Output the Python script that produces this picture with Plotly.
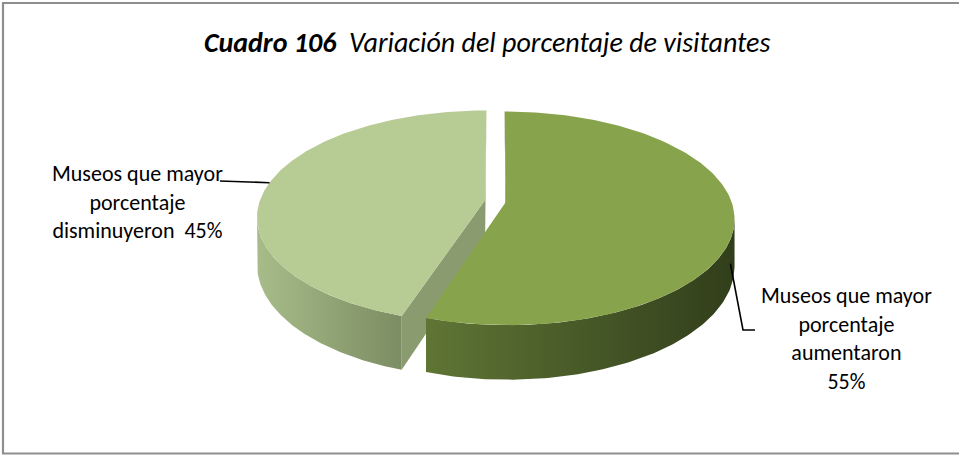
import numpy as np
import plotly.graph_objects as go

# --- data -------------------------------------------------------------
categories = [
    "Museos que mayor<br>porcentaje<br>aumentaron",
    "Museos que mayor<br>porcentaje<br>disminuyeron",
]
values = [55, 45]
value_separators = ["<br>", "\u00a0\u00a0"]

# --- styles -----------------------------------------------------------
top_colors = ["#87A34B", "#B7CB94"]
wall_colors = [("#5F7535", "#313E1B"), ("#A8BC8A", "#7B8D62")]
cut_colors = ["#3F4F22", "#8B9B70"]

W, H = 959, 455

# 3D pie geometry (screen pixels), simple perspective on a tilted disc
CX, CY = 495.5, 201.0
RX, RY = 225.3, 104.0
K = 0.155          # perspective strength
DEPTH = 46.0       # thickness of the pie
EXPLODE = 0.047    # slice separation, in disc radii


def project(u, v, h=0.0):
    u = np.asarray(u, dtype=float)
    v = np.asarray(v, dtype=float)
    den = 1.0 + K * v
    x = CX + RX * u / den
    y = CY + (-RY * v + h * DEPTH) / den
    return x, y


total = float(sum(values))
bounds = np.concatenate([[0.0], np.cumsum(values) / total * 360.0])
silh_lo = np.degrees(np.arccos(-K))
silh_hi = 360.0 - silh_lo

slices = []
for i, val in enumerate(values):
    a0, a1 = bounds[i], bounds[i + 1]
    mid = np.radians((a0 + a1) / 2)
    su, sv = EXPLODE * np.sin(mid), EXPLODE * np.cos(mid)
    slices.append(dict(i=i, a0=a0, a1=a1, su=su, sv=sv))

# paint back slices first
slices.sort(key=lambda s: -s["sv"])

fig = go.Figure()


def add_poly(xs, ys, color=None, gradient=None):
    kw = dict(x=list(xs) + [xs[0]], y=list(ys) + [ys[0]], mode="lines",
              fill="toself", line=dict(width=0), hoverinfo="skip",
              showlegend=False)
    if gradient is not None:
        kw["fillgradient"] = dict(type="horizontal",
                                  colorscale=[[0, gradient[0]], [1, gradient[1]]])
    else:
        kw["fillcolor"] = color
    fig.add_trace(go.Scatter(**kw))


for s in slices:
    i, a0, a1, su, sv = s["i"], s["a0"], s["a1"], s["su"], s["sv"]

    # outer wall (front-facing part only)
    w0, w1 = max(a0, silh_lo), min(a1, silh_hi)
    if w1 > w0:
        th = np.radians(np.linspace(w0, w1, 120))
        u, v = su + np.sin(th), sv + np.cos(th)
        xt, yt = project(u, v, 0)
        xb, yb = project(u, v, 1)
        add_poly(np.concatenate([xt, xb[::-1]]), np.concatenate([yt, yb[::-1]]),
                 gradient=wall_colors[i])

    # radial cut faces
    px, py = project(su, sv, 0)
    pbx, pby = project(su, sv, 1)
    for a, side in ((a0, 1), (a1, -1)):
        t = np.radians(a)
        rx_, ry_ = project(su + np.sin(t), sv + np.cos(t), 0)
        rbx, rby = project(su + np.sin(t), sv + np.cos(t), 1)
        q = np.radians(a + side * 5)
        qx, qy = project(su + 0.5 * np.sin(q), sv + 0.5 * np.cos(q), 0)
        ex, ey = rx_ - px, ry_ - py
        c_down = ex * 1.0
        c_in = ex * (qy - py) - ey * (qx - px)
        if c_down * c_in < 0:
            add_poly([px, rx_, rbx, pbx], [py, ry_, rby, pby], color=cut_colors[i])

    # top face
    th = np.radians(np.linspace(a0, a1, 200))
    xt, yt = project(su + np.sin(th), sv + np.cos(th), 0)
    add_poly(np.concatenate([[px], xt]), np.concatenate([[py], yt]),
             color=top_colors[i])

# --- data labels with leader lines ------------------------------------
label_font = dict(family="Carlito, Calibri, Lato, sans-serif", size=22, color="#000000")
label_pos = {0: (846, 338), 1: (137.5, 202)}
leader_angle = {0: 110, 1: 280}
leader_depth = {0: 0.5, 1: 0.0}
leader_tail = {0: [(743, 330), (755, 330)], 1: [(220, 181)]}

for s in slices:
    i, su, sv = s["i"], s["su"], s["sv"]
    t = np.radians(leader_angle[i])
    ax_, ay_ = project(su + np.sin(t), sv + np.cos(t), leader_depth[i])
    pts = [(float(ax_), float(ay_))] + leader_tail[i]
    fig.add_trace(go.Scatter(x=[p[0] for p in pts], y=[p[1] for p in pts],
                             mode="lines", line=dict(color="#000000", width=1.6),
                             hoverinfo="skip", showlegend=False))
    fig.add_annotation(x=label_pos[i][0], y=label_pos[i][1],
                       text=f"{categories[i]}{value_separators[i]}{values[i]}%",
                       showarrow=False, align="center", xanchor="center",
                       yanchor="middle", font=label_font)

# --- title -------------------------------------------------------------
fig.add_annotation(
    x=487, y=42, xanchor="center", yanchor="middle", showarrow=False,
    text="<b><i>Cuadro 106</i></b><i>\u00a0\u00a0Variación del porcentaje de visitantes</i>",
    font=dict(family="Carlito, Calibri, Lato, sans-serif", size=28, color="#000000"),
)

# --- frame -------------------------------------------------------------
border = dict(color="#8E8E8E", width=2.2)
fig.add_shape(type="line", x0=2, y0=3, x1=W, y1=3, line=border)
fig.add_shape(type="line", x0=3, y0=2, x1=3, y1=454, line=border)
fig.add_shape(type="line", x0=2, y0=453.5, x1=W, y1=453.5, line=border)

fig.update_layout(
    width=W, height=H,
    margin=dict(l=0, r=0, t=0, b=0),
    paper_bgcolor="#FFFFFF", plot_bgcolor="#FFFFFF",
    xaxis=dict(range=[0, W], visible=False, fixedrange=True),
    yaxis=dict(range=[H, 0], visible=False, fixedrange=True),
    showlegend=False,
)

fig.write_html("out.html")
